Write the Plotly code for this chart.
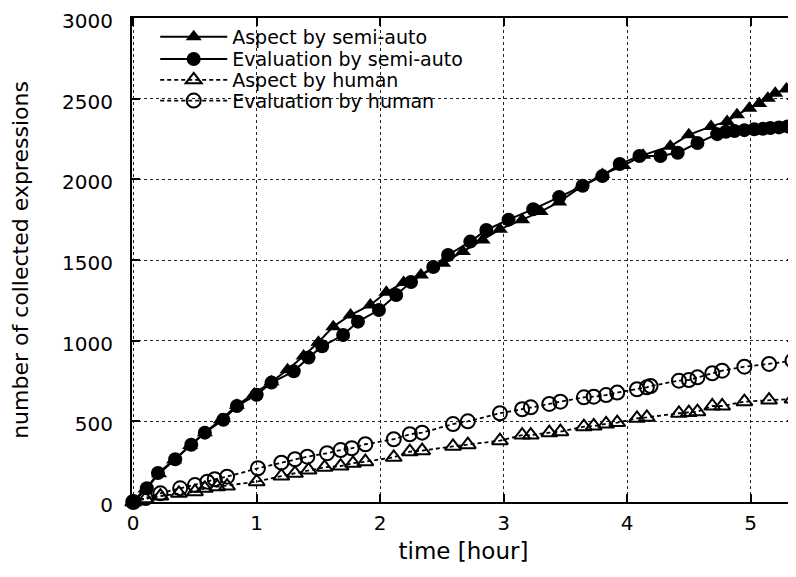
import plotly.graph_objects as go

# Aspect by semi-auto
asp_semi_x = [0, 0.10, 0.21, 0.33, 0.46, 0.58, 0.71, 0.84, 0.98, 1.12, 1.25, 1.38, 1.50, 1.62, 1.76, 1.92,
              2.05, 2.19, 2.33, 2.51, 2.67, 2.83, 2.97, 3.15, 3.30, 3.45, 3.62, 3.80, 3.97, 4.13, 4.35,
              4.50, 4.68, 4.81, 4.89, 4.99, 5.07, 5.14, 5.20, 5.29, 5.35]
asp_semi_y = [0, 80, 175, 260, 350, 430, 510, 600, 670, 745, 820, 905, 990, 1087, 1159, 1221,
              1300, 1360, 1407, 1480, 1552, 1624, 1690, 1750, 1800, 1860, 1950, 2030, 2085, 2150, 2205,
              2276, 2328, 2359, 2400, 2441, 2470, 2503, 2534, 2560, 2600]

# Evaluation by semi-auto
eval_semi_x = [0, 0.11, 0.20, 0.34, 0.47, 0.58, 0.73, 0.84, 1.00, 1.12, 1.30, 1.42, 1.53, 1.70, 1.82, 1.99,
               2.13, 2.25, 2.43, 2.55, 2.73, 2.86, 3.04, 3.24, 3.45, 3.64, 3.80, 3.94, 4.10, 4.27, 4.41,
               4.57, 4.73, 4.80, 4.87, 4.95, 5.03, 5.10, 5.16, 5.23, 5.30]
eval_semi_y = [0, 85, 180, 265, 355, 430, 510, 595, 665, 740, 810, 895, 965, 1035, 1118, 1190,
               1283, 1364, 1457, 1531, 1614, 1686, 1750, 1815, 1890, 1960, 2020, 2095, 2145, 2145, 2165,
               2225, 2280, 2295, 2300, 2305, 2310, 2313, 2318, 2322, 2328]

# Aspect by human
asp_hum_x = [0, 0.10, 0.22, 0.37, 0.50, 0.58, 0.68, 0.76, 1.00, 1.20, 1.31, 1.42, 1.55, 1.68, 1.78, 1.88,
             2.11, 2.24, 2.34, 2.59, 2.71, 2.97, 3.15, 3.22, 3.37, 3.46, 3.65, 3.73, 3.83, 3.92, 4.08,
             4.16, 4.42, 4.50, 4.57, 4.69, 4.77, 4.95, 5.15, 5.34]
asp_hum_y = [0, 20, 37, 54, 64, 85, 95, 99, 126, 161, 178, 198, 215, 223, 240, 250,
             277, 312, 318, 345, 355, 380, 415, 415, 430, 436, 467, 471, 484, 492, 519,
             525, 550, 554, 560, 595, 595, 622, 632, 639]

# Evaluation by human
eval_hum_x = [0, 0.10, 0.22, 0.38, 0.50, 0.60, 0.66, 0.76, 1.01, 1.20, 1.31, 1.41, 1.57, 1.68, 1.77, 1.88,
              2.11, 2.24, 2.34, 2.59, 2.71, 2.97, 3.15, 3.22, 3.37, 3.46, 3.65, 3.73, 3.83, 3.92, 4.08,
              4.16, 4.19, 4.42, 4.50, 4.57, 4.69, 4.77, 4.95, 5.15, 5.34]
eval_hum_y = [0, 25, 54, 85, 105, 126, 141, 157, 209, 244, 265, 281, 302, 322, 333, 358,
              389, 420, 430, 483, 500, 550, 575, 587, 608, 622, 649, 653, 663, 678, 699,
              711, 719, 752, 756, 773, 798, 814, 839, 856, 876]

x_ticks = [0, 1, 2, 3, 4, 5]
y_ticks = [0, 500, 1000, 1500, 2000, 2500, 3000]

FONT = "DejaVu Sans"

fig = go.Figure()
fig.add_trace(go.Scatter(
    x=asp_semi_x, y=asp_semi_y, name="Aspect by semi-auto", mode="lines+markers",
    line=dict(color="black", width=2),
    marker=dict(symbol="triangle-up", size=14, color="black"),
    cliponaxis=False, legend="legend"))
fig.add_trace(go.Scatter(
    x=eval_semi_x, y=eval_semi_y, name="Evaluation by semi-auto", mode="lines+markers",
    line=dict(color="black", width=2),
    marker=dict(symbol="circle", size=14, color="black"),
    cliponaxis=False, legend="legend2"))
fig.add_trace(go.Scatter(
    x=asp_hum_x, y=asp_hum_y, name="Aspect by human", mode="lines+markers",
    line=dict(color="black", width=1.8, dash="4px,3px"),
    marker=dict(symbol="triangle-up-open", size=14, color="black", line=dict(width=2)),
    cliponaxis=False, legend="legend3"))
fig.add_trace(go.Scatter(
    x=eval_hum_x, y=eval_hum_y, name="Evaluation by human", mode="lines+markers",
    line=dict(color="black", width=1.8, dash="4px,3px"),
    marker=dict(symbol="circle-open", size=14, color="black", line=dict(width=2)),
    cliponaxis=False, legend="legend4"))

leg_common = dict(x=0.035, xanchor="left", yanchor="middle", bgcolor="rgba(0,0,0,0)",
                  font=dict(family=FONT, size=19, color="black"), itemwidth=67,
                  borderwidth=0)
leg_y = [0.961, 0.915, 0.872, 0.829]

fig.update_layout(
    width=788, height=569,
    margin=dict(l=124, r=1, t=10, b=75, autoexpand=False),
    paper_bgcolor="white", plot_bgcolor="white",
    font=dict(family=FONT, size=20, color="black"),
    showlegend=True,
    legend=dict(y=leg_y[0], **leg_common),
    legend2=dict(y=leg_y[1], **leg_common),
    legend3=dict(y=leg_y[2], **leg_common),
    legend4=dict(y=leg_y[3], **leg_common),
    xaxis=dict(
        range=[-0.01, 5.36], tickvals=x_ticks, ticktext=[str(v) for v in x_ticks],
        showline=True, linecolor="black", linewidth=2, mirror="allticks",
        ticks="inside", ticklen=8, tickwidth=1.5, tickcolor="black",
        showgrid=True, gridcolor="#222", gridwidth=1, griddash="dot",
        zeroline=False, tickfont=dict(family=FONT, size=20), automargin=False,
        ticklabelstandoff=2, ticklabeloverflow="allow",
        title=dict(text="time [hour]", font=dict(family=FONT, size=23), standoff=9),
    ),
    yaxis=dict(
        range=[0, 3000], tickvals=y_ticks, ticktext=[str(v) for v in y_ticks],
        showline=True, linecolor="black", linewidth=2, mirror="allticks",
        ticks="inside", ticklen=8, tickwidth=1.5, tickcolor="black",
        showgrid=True, gridcolor="#222", gridwidth=1, griddash="dot",
        zeroline=False, tickfont=dict(family=FONT, size=20), ticklabelstandoff=13,
        ticklabelshift=3, ticklabeloverflow="allow", automargin=False,
        title=dict(text="number of collected expressions", font=dict(family=FONT, size=22), standoff=30),
    ),
    shapes=[dict(type="rect", xref="paper", yref="paper", x0=0.003, x1=0.645, y0=0.795, y1=0.998,
                 fillcolor="white", line=dict(width=0), layer="between")],
)

fig.write_html("out.html")
